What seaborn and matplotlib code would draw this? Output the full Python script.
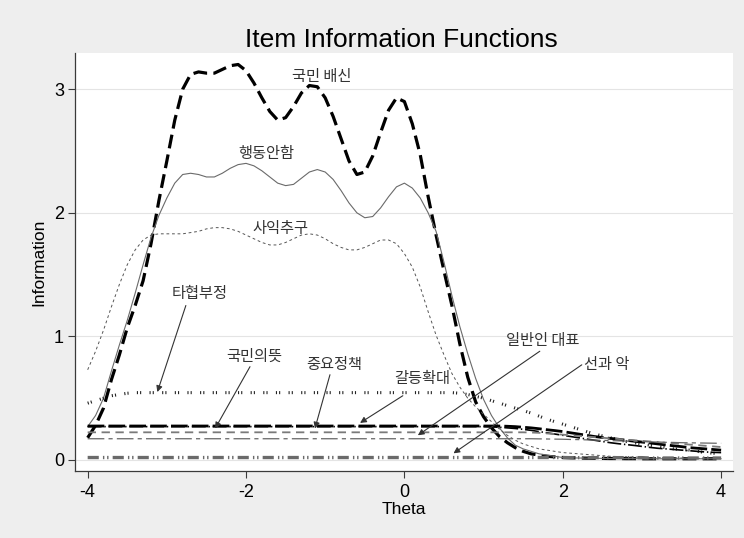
import matplotlib
matplotlib.use("Agg")
import matplotlib.pyplot as plt
import seaborn as sns
import pandas as pd

# ---------------- data ----------------
theta = [-4.0, -3.9, -3.8, -3.7, -3.6, -3.5, -3.4, -3.3, -3.2, -3.1,
         -3.0, -2.9, -2.8, -2.7, -2.6, -2.5, -2.4, -2.3, -2.2, -2.1,
         -2.0, -1.9, -1.8, -1.7, -1.6, -1.5, -1.4, -1.3, -1.2, -1.1,
         -1.0, -0.9, -0.8, -0.7, -0.6, -0.5, -0.4, -0.3, -0.2, -0.1,
         0.0, 0.1, 0.2, 0.3, 0.4, 0.5, 0.6, 0.7, 0.8, 0.9,
         1.0, 1.1, 1.2, 1.3, 1.4, 1.5, 1.6, 1.7, 1.8, 1.9,
         2.0, 2.1, 2.2, 2.3, 2.4, 2.5, 2.6, 2.7, 2.8, 2.9,
         3.0, 3.1, 3.2, 3.3, 3.4, 3.5, 3.6, 3.7, 3.8, 3.9, 4.0]

betrayal = [0.18, 0.28, 0.42, 0.65, 0.85, 1.07, 1.25, 1.45, 1.75, 2.10,
            2.42, 2.75, 3.00, 3.12, 3.14, 3.13, 3.13, 3.16, 3.19, 3.20,
            3.15, 3.05, 2.93, 2.82, 2.75, 2.77, 2.86, 2.97, 3.03, 3.02,
            2.93, 2.78, 2.60, 2.42, 2.31, 2.33, 2.46, 2.65, 2.83, 2.93,
            2.90, 2.72, 2.47, 2.13, 1.82, 1.53, 1.25, 0.94, 0.67, 0.47,
            0.35, 0.26, 0.19, 0.14, 0.10, 0.07, 0.05, 0.04, 0.03, 0.025,
            0.02, 0.018, 0.016, 0.015, 0.014, 0.013, 0.012, 0.012, 0.011, 0.011,
            0.01, 0.01, 0.01, 0.01, 0.01, 0.01, 0.01, 0.01, 0.01, 0.01, 0.01]

no_action = [0.27, 0.36, 0.50, 0.72, 0.93, 1.13, 1.35, 1.58, 1.80, 1.98,
             2.12, 2.24, 2.31, 2.32, 2.31, 2.29, 2.29, 2.32, 2.36, 2.39,
             2.40, 2.38, 2.34, 2.29, 2.24, 2.22, 2.23, 2.28, 2.33, 2.35,
             2.33, 2.27, 2.18, 2.08, 2.00, 1.96, 1.97, 2.04, 2.13, 2.21,
             2.24, 2.20, 2.12, 2.00, 1.85, 1.60, 1.33, 1.08, 0.86, 0.66,
             0.49, 0.36, 0.26, 0.18, 0.12, 0.09, 0.07, 0.05, 0.04, 0.03,
             0.02, 0.018, 0.016, 0.015, 0.014, 0.013, 0.012, 0.012, 0.011, 0.011,
             0.01, 0.01, 0.01, 0.01, 0.01, 0.01, 0.01, 0.01, 0.01, 0.01, 0.01]

self_interest = [0.73, 0.88, 1.05, 1.24, 1.42, 1.58, 1.70, 1.78, 1.82, 1.83,
                 1.83, 1.83, 1.83, 1.84, 1.85, 1.87, 1.88, 1.88, 1.87, 1.85,
                 1.82, 1.79, 1.76, 1.74, 1.74, 1.76, 1.79, 1.82, 1.83, 1.82,
                 1.79, 1.75, 1.72, 1.70, 1.70, 1.72, 1.75, 1.78, 1.78, 1.75,
                 1.67, 1.56, 1.40, 1.20, 1.01, 0.85, 0.70, 0.59, 0.50, 0.43,
                 0.37, 0.31, 0.25, 0.20, 0.16, 0.13, 0.11, 0.09, 0.08, 0.07,
                 0.06, 0.055, 0.05, 0.045, 0.04, 0.035, 0.03, 0.028, 0.026, 0.024,
                 0.022, 0.02, 0.019, 0.018, 0.017, 0.016, 0.015, 0.014, 0.013, 0.012, 0.011]

no_compromise = ([0.46, 0.48, 0.50, 0.52, 0.53, 0.54] + [0.545] * 41 +
                 [0.54, 0.53, 0.515, 0.50, 0.48, 0.46, 0.44, 0.42, 0.40, 0.38,
                  0.355, 0.33, 0.31, 0.29, 0.27, 0.25, 0.23, 0.21, 0.195, 0.18,
                  0.165, 0.15, 0.14, 0.13, 0.12, 0.11, 0.10, 0.09, 0.085, 0.08,
                  0.07, 0.06, 0.055, 0.05])

people_will = [0.275] * 53 + [0.273, 0.27, 0.265, 0.26, 0.253, 0.245, 0.238, 0.23, 0.22, 0.21,
                              0.20, 0.19, 0.182, 0.175, 0.168, 0.16, 0.152, 0.145, 0.138, 0.13,
                              0.122, 0.115, 0.108, 0.10, 0.095, 0.09, 0.085, 0.08]

key_policy = [0.27] * 51 + [0.268, 0.265, 0.26, 0.255, 0.248, 0.24, 0.23, 0.22, 0.21, 0.20,
                            0.19, 0.18, 0.17, 0.16, 0.15, 0.14, 0.132, 0.125, 0.118, 0.11,
                            0.102, 0.095, 0.09, 0.085, 0.08, 0.075, 0.07, 0.065, 0.062, 0.06]

conflict = [0.224] * 56 + [0.222, 0.22, 0.215, 0.21, 0.205, 0.20, 0.195, 0.19, 0.185, 0.18,
                           0.175, 0.17, 0.165, 0.16, 0.155, 0.15, 0.145, 0.14, 0.135, 0.13,
                           0.125, 0.12, 0.115, 0.11, 0.105]

ordinary_rep = [0.172] * 57 + [0.171, 0.17, 0.169, 0.168, 0.166, 0.165, 0.163, 0.161, 0.159, 0.157,
                               0.155, 0.153, 0.151, 0.149, 0.147, 0.145, 0.143, 0.142, 0.14, 0.139,
                               0.138, 0.137, 0.136, 0.135]

good_evil = [0.02] * 61 + [0.019] * 10 + [0.016] * 10

items = ["국민 배신", "행동안함", "사익추구", "타협부정", "국민의뜻",
         "중요정책", "갈등확대", "일반인 대표", "선과 악"]
values = [betrayal, no_action, self_interest, no_compromise, people_will,
          key_policy, conflict, ordinary_rep, good_evil]
for v in values:
    assert len(v) == len(theta)

df = pd.concat([pd.DataFrame({"theta": theta, "info": v, "item": name})
                for name, v in zip(items, values)], ignore_index=True)

# ---------------- styles ----------------
styles = {
    "국민 배신":  dict(color="black",   lw=2.3, ls=(0, (10, 4.5))),
    "행동안함":   dict(color="#6a6a6a", lw=0.8, ls="-"),
    "사익추구":   dict(color="#555555", lw=0.7, ls=(0, (2, 2))),
    "타협부정":   dict(color="#222222", lw=2.2, ls=(0, (0.8, 1.5, 0.8, 6))),
    "국민의뜻":   dict(color="black",   lw=2.0, ls=(0, (12, 3))),
    "중요정책":   dict(color="black",   lw=1.2, ls=(0, (10, 2, 1, 2))),
    "갈등확대":   dict(color="#7a7a7a", lw=1.3, ls=(0, (6, 4))),
    "일반인 대표": dict(color="#666666", lw=0.9, ls=(0, (12, 3, 3, 3))),
    "선과 악":    dict(color="#6a6a6a", lw=2.4, ls=(0, (8, 3, 1, 2, 1, 3))),
}

sns.set_theme(style="white")
plt.rcParams["font.family"] = ["Liberation Sans", "DejaVu Sans"]
plt.rcParams["lines.scale_dashes"] = False

W, H = 744, 538
fig = plt.figure(figsize=(W / 100, H / 100), dpi=100, facecolor="#EEEEEE")
ax = fig.add_axes([75 / W, (H - 471) / H, (733 - 75) / W, (471 - 53) / H])
ax.set_facecolor("white")

for name in items:
    st = styles[name]
    sns.lineplot(data=df[df["item"] == name], x="theta", y="info", ax=ax,
                 color=st["color"], linewidth=st["lw"], linestyle=st["ls"],
                 estimator=None, sort=True, legend=False)

ax.set_xlim(-4.16, 4.15)
ax.set_ylim(-0.089, 3.293)
ax.set_xticks([-4, -2, 0, 2, 4])
ax.set_yticks([0, 1, 2, 3])
ax.set_xticklabels(["-4", "-2", "0", "2", "4"])
ax.set_yticklabels(["0", "1", "2", "3"])
ax.yaxis.grid(True, color="#E4E4E4", lw=0.8)
ax.xaxis.grid(False)
ax.set_axisbelow(True)

for s in ["top", "right"]:
    ax.spines[s].set_visible(False)
for s in ["left", "bottom"]:
    ax.spines[s].set_color("#3a3a3a")
    ax.spines[s].set_linewidth(0.9)

ax.tick_params(axis="both", direction="out", length=5, width=0.8,
               color="#3a3a3a", labelsize=13, labelcolor="black",
               left=True, bottom=True)
ax.tick_params(axis="x", pad=4.5)
ax.tick_params(axis="y", pad=3)

ax.set_xlabel("Theta", fontsize=12.5, color="black")
ax.set_ylabel("Information", fontsize=12.5, color="black")
ax.xaxis.set_label_coords(0.5, -0.074)
ax.yaxis.set_label_coords(-0.043, 0.5)

fig.text(401 / W, 1 - 47 / H, "Item Information Functions", ha="center",
         va="baseline", fontsize=19, color="black")

kfont = ["Noto Sans CJK KR", "DejaVu Sans"]
tcol = "#333333"
# plain labels
ax.text(-1.05, 3.10, "국민 배신", family=kfont, fontsize=11, color=tcol, ha="center", va="center")
ax.text(-1.74, 2.48, "행동안함", family=kfont, fontsize=11, color=tcol, ha="center", va="center")
ax.text(-1.57, 1.87, "사익추구", family=kfont, fontsize=11, color=tcol, ha="center", va="center")

# labels with arrows: (text x, text y, arrow start x, y, tip x, y)
arrow_labels = [
    ("타협부정", -2.58, 1.35, -2.76, 1.25, -3.12, 0.55),
    ("국민의뜻", -1.89, 0.84, -1.95, 0.755, -2.39, 0.255),
    ("중요정책", -0.88, 0.77, -0.94, 0.69, -1.13, 0.255),
    ("갈등확대", 0.22, 0.66, -0.02, 0.52, -0.56, 0.30),
    ("일반인 대표", 1.75, 0.97, 1.71, 0.88, 0.17, 0.20),
    ("선과 악", 2.55, 0.77, 2.24, 0.77, 0.62, 0.054),
]
for txt, tx, ty, sx, sy, px, py in arrow_labels:
    ax.text(tx, ty, txt, family=kfont, fontsize=11, color=tcol, ha="center", va="center")
    ax.annotate("", xy=(px, py), xytext=(sx, sy),
                arrowprops=dict(arrowstyle="-|>", color="#333333", lw=0.8,
                                mutation_scale=9, shrinkA=0, shrinkB=0))

fig.savefig("out.png", dpi=100, facecolor=fig.get_facecolor())
